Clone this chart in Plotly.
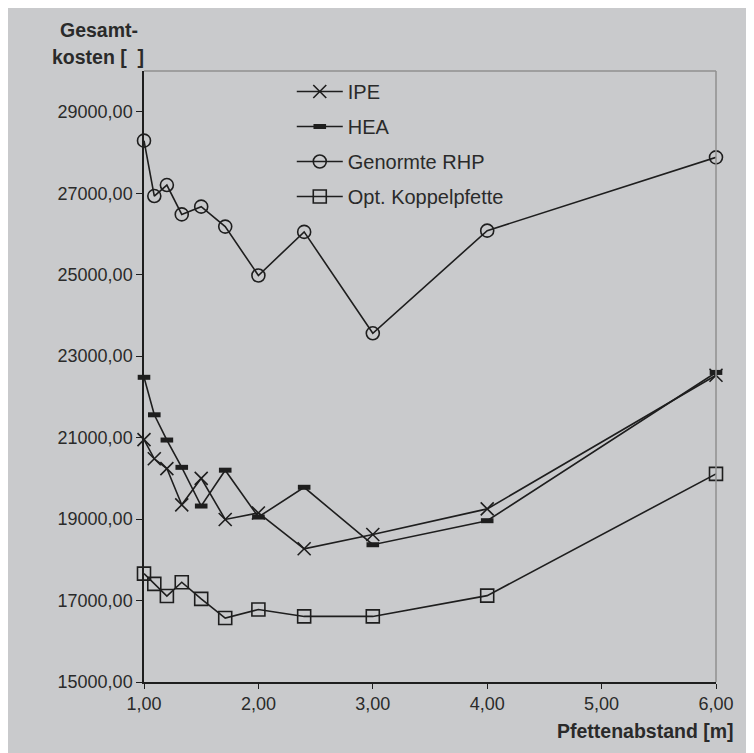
import plotly.graph_objects as go

# Pfettenabstand [m] (12 m Spannweite / Anzahl Felder)
abstand = [1.00, 1.09, 1.20, 1.33, 1.50, 1.71, 2.00, 2.40, 3.00, 4.00, 6.00]

# Gesamtkosten je Variante
ipe = [20950, 20480, 20240, 19350, 20000, 18990, 19150, 18270, 18620, 19250, 22530]
hea = [22480, 21560, 20940, 20270, 19320, 20200, 19050, 19780, 18370, 18960, 22600]
rhp = [28290, 26930, 27200, 26480, 26670, 26180, 24980, 26050, 23560, 26080, 27880]
koppel = [17660, 17410, 17110, 17450, 17040, 16570, 16780, 16610, 16610, 17120, 20110]

names = ["IPE", "HEA", "Genormte RHP", "Opt. Koppelpfette"]

BG = "#c9cacc"
INK = "#1e1e1e"
TXT = "#2a2a2a"
FONT = "Liberation Sans, Arial, sans-serif"

fig = go.Figure()

# IPE - thin crosses
fig.add_trace(go.Scatter(x=abstand, y=ipe, name=names[0], mode="lines+markers",
                         line=dict(color=INK, width=1.6),
                         marker=dict(symbol="x-thin-open", size=13, color=INK,
                                     line=dict(color=INK, width=1.6)),
                         legendgroup="a", cliponaxis=False))
# HEA - small filled bars
fig.add_trace(go.Scatter(x=abstand, y=hea, name=names[1], mode="lines+markers",
                         line=dict(color=INK, width=1.6),
                         marker=dict(symbol="line-ew", size=9, color=INK,
                                     line=dict(color=INK, width=5)),
                         legendgroup="b", cliponaxis=False))
# Genormte RHP - open circles
fig.add_trace(go.Scatter(x=abstand, y=rhp, name=names[2], mode="lines+markers",
                         line=dict(color=INK, width=1.6),
                         marker=dict(symbol="circle-open", size=13, color=INK,
                                     line=dict(color=INK, width=1.6)),
                         legendgroup="c", cliponaxis=False))
# Opt. Koppelpfette - open squares
fig.add_trace(go.Scatter(x=abstand, y=koppel, name=names[3], mode="lines+markers",
                         line=dict(color=INK, width=1.6),
                         marker=dict(symbol="square-open", size=13, color=INK,
                                     line=dict(color=INK, width=1.6)),
                         legendgroup="d", cliponaxis=False))

# plot area in figure pixels (page body adds an 8px offset)
L, R, T, B = 136.3, 708, 63, 673.7
W, H = R - L, B - T

def px_x(px):
    return (px - L) / W

def px_y(py):
    return (B - py) / H

fig.update_layout(
    width=754, height=753,
    margin=dict(l=L, r=754 - R, t=T, b=753 - B),
    paper_bgcolor=BG,
    plot_bgcolor=BG,
    font=dict(family=FONT, color=TXT, size=18),
    separators=",.",
    showlegend=True,
    legend=dict(x=px_x(284), y=px_y(64), xanchor="left", yanchor="top",
                bgcolor="rgba(0,0,0,0)", font=dict(size=20, color=TXT),
                tracegroupgap=6, itemwidth=46),
    shapes=[
        # grey frame top and right
        dict(type="line", xref="paper", yref="paper", x0=0, x1=1, y0=1, y1=1,
             line=dict(color="#8f8f8f", width=1.5)),
        dict(type="line", xref="paper", yref="paper", x0=1, x1=1, y0=0, y1=1,
             line=dict(color="#8f8f8f", width=1.5)),
    ],
    annotations=[
        dict(text="<b>Gesamt-</b>", xref="paper", yref="paper", x=px_x(91), y=px_y(22),
             xanchor="center", yanchor="middle", showarrow=False,
             font=dict(size=19.5, color=TXT)),
        dict(text="<b>kosten [\u00a0\u00a0]</b>", xref="paper", yref="paper",
             x=px_x(90), y=px_y(49), xanchor="center", yanchor="middle",
             showarrow=False, font=dict(size=19.5, color=TXT)),
        dict(text="<b>Pfettenabstand [m]</b>", xref="paper", yref="paper",
             x=px_x(728), y=px_y(723), xanchor="right", yanchor="middle",
             showarrow=False, font=dict(size=19.5, color=TXT)),
    ],
)

fig.update_xaxes(range=[1, 6], tick0=1, dtick=1, tickformat=".2f",
                 showgrid=False, zeroline=False,
                 showline=True, linecolor=INK, linewidth=1.5,
                 ticks="outside", ticklen=5, tickcolor=INK, tickwidth=1.2)
fig.update_yaxes(range=[15000, 30000], tick0=15000, dtick=2000, tickformat=".2f",
                 showgrid=False, zeroline=False,
                 showline=True, linecolor=INK, linewidth=1.5,
                 ticks="outside", ticklen=6, tickcolor=INK, tickwidth=1.2)

fig.write_html("out.html")
